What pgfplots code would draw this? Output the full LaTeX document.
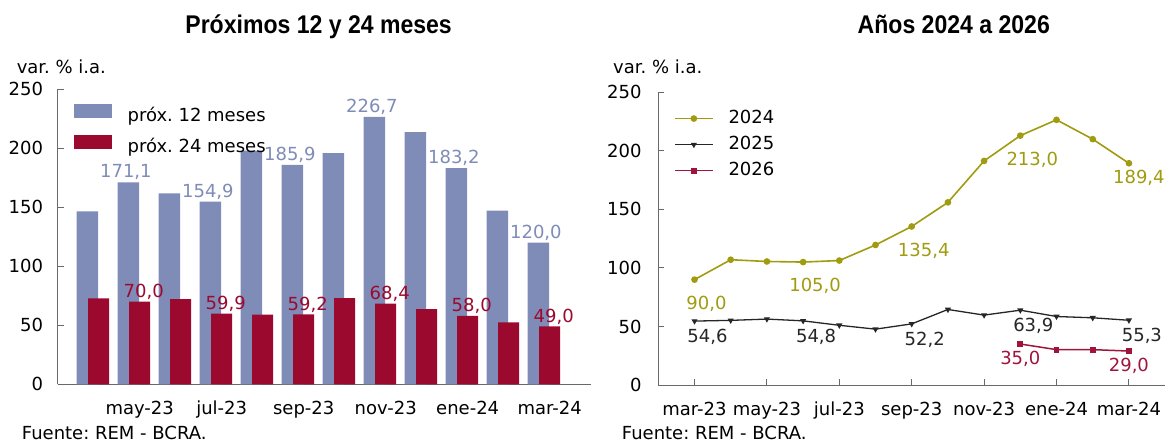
\documentclass[border=0pt]{standalone}
\usepackage{pgfplots}
\pgfplotsset{compat=1.18}
\usepackage{fontspec}
\setmainfont{DejaVu Sans}
\newfontfamily\titlefont[FakeStretch=0.9]{Liberation Sans}
\definecolor{blueB}{RGB}{127,140,184}
\definecolor{redB}{RGB}{155,10,46}
\definecolor{oliveL}{RGB}{160,155,15}
\definecolor{red26}{RGB}{160,20,60}
\definecolor{axisgray}{RGB}{105,105,105}
\newcommand\fs{\fontsize{18}{21.6}\selectfont}
\frenchspacing
\pgfplotsset{
  common/.style={
    scale only axis, ymin=0, ymax=250, clip=false,
    axis x line*=bottom, axis y line*=left,
    axis line style={axisgray, line width=1pt, -},
    tick align=inside, major tick length=6pt,
    tick style={axisgray, line width=1pt},
    ytick={0,50,...,250},
    tick label style={font=\fs, text=black},
    xticklabel style={inner sep=0pt, anchor=north, yshift=-17pt, text height=13pt, text depth=4pt},
    /pgf/number format/assume math mode=true,
  },
  lab/.style={draw=none, mark=none, forget plot, point meta=y,
    nodes near coords={\pgfmathprintnumber[fixed,fixed zerofill,precision=1,use comma,assume math mode=true]{\pgfplotspointmeta}},
    every node near coord/.append style={font=\fs, inner sep=0pt, anchor=center, #1}},
}
\begin{document}
\begin{tikzpicture}[x=1pt,y=1pt]
\useasboundingbox (0,0) rectangle (1169,442);
\node[anchor=base, inner sep=0pt] at (318.6,408.7) {\titlefont\bfseries\fontsize{25.6}{30}\selectfont Próximos 12 y 24 meses};
\node[anchor=base, inner sep=0pt] at (953.8,408.7) {\titlefont\bfseries\fontsize{25.6}{30}\selectfont Años 2024 a 2026};
\node[anchor=base west, inner sep=0pt] at (16.6,368) {\fs var. \% i.a.};
\node[anchor=base west, inner sep=0pt] at (613,368) {\fs var. \% i.a.};
\node[anchor=base west, inner sep=0pt] at (21.7,2.5) {\fs Fuente: REM - BCRA.};
\node[anchor=base west, inner sep=0pt] at (621.7,2.5) {\fs Fuente: REM - BCRA.};

\begin{axis}[common,
  at={(57.7pt,57.7pt)}, anchor=south west, width=533pt, height=295pt,
  xmin=0, xmax=13,
  xtick={2,4,...,12}, xticklabels={may-23,jul-23,sep-23,nov-23,ene-24,mar-24},
  yticklabel style={inner sep=0pt, anchor=east, xshift=-14.4pt},
  legend style={draw=none, fill=none, at={(0.0306,0.952)}, anchor=north west, inner sep=0pt,
    row sep=9.8pt, column sep=16pt, font=\fs, nodes={inner sep=0pt, text height=13pt, text depth=4pt}},
  legend cell align=left,
]
\addlegendimage{legend image code/.code={\fill[blueB] (0pt,-0.5pt) rectangle (37pt,12.8pt);}}
\addlegendentry{próx. 12 meses}
\addlegendimage{legend image code/.code={\fill[redB] (0pt,-0.5pt) rectangle (37pt,12.8pt);}}
\addlegendentry{próx. 24 meses}
\addplot[ybar, bar width=21.6pt, bar shift=-11.3pt, fill=blueB, draw=none, forget plot] coordinates {
 (1,146.6)(2,171.1)(3,161.9)(4,154.9)(5,198)(6,185.9)(7,196)(8,226.7)(9,213.8)(10,183.2)(11,147.2)(12,120)};
\addplot[ybar, bar width=21pt, bar shift=0pt, fill=redB, draw=none, forget plot] coordinates {
 (1,72.8)(2,70)(3,72.2)(4,59.9)(5,59)(6,59.2)(7,73)(8,68.4)(9,63.8)(10,58)(11,52.5)(12,49)};
\addplot[lab={text=blueB, xshift=-13.8pt, yshift=10pt}] coordinates {
 (2,171.1)(4,154.9)(6,185.9)(8,226.7)(10,183.2)(12,120)};
\addplot[lab={text=redB, xshift=4pt, yshift=10pt}] coordinates {
 (2,70)(4,59.9)(6,59.2)(8,68.4)(10,58)(12,49)};
\end{axis}

\begin{axis}[common,
  at={(658.3pt,57pt)}, anchor=south west, width=506.8pt, height=292.7pt,
  xmin=-1, xmax=13,
  xtick={0,2,...,12}, xticklabels={mar-23,may-23,jul-23,sep-23,nov-23,ene-24,mar-24},
  yticklabel style={inner sep=0pt, anchor=east, xshift=-16.6pt},
  legend style={draw=none, fill=none, at={(0.031,0.94)}, anchor=north west, inner sep=0pt,
    row sep=9pt, column sep=15pt, font=\fs, nodes={inner sep=0pt, text height=13pt, text depth=4pt}},
  legend cell align=left,
  legend image code/.code={\draw[mark repeat=2,mark phase=2,#1] plot coordinates {(0pt,0pt)(18.85pt,0pt)(37.7pt,0pt)};},
]
\addplot[oliveL, line width=1.6pt, mark=*, mark size=2.5pt] coordinates {
 (0,90)(1,107)(2,105.5)(3,105)(4,106.3)(5,119.6)(6,135.4)(7,156)(8,191.4)(9,213)(10,226.5)(11,210)(12,189.4)};
\addlegendentry{2024}
\addplot[black!85, line width=1.3pt, mark=triangle*, mark options={rotate=180}, mark size=2.3pt] coordinates {
 (0,54.6)(1,55.2)(2,56.3)(3,54.8)(4,51)(5,47.7)(6,52.2)(7,64.5)(8,59.7)(9,63.9)(10,58.5)(11,57.4)(12,55.3)};
\addlegendentry{2025}
\addplot[red26, line width=1.5pt, mark=square*, mark size=2.2pt] coordinates {
 (9,35)(10,30.2)(11,30.2)(12,29)};
\addlegendentry{2026}
\addplot[lab={text=oliveL, xshift=12pt, yshift=-24pt}] coordinates {(0,90)(3,105)(6,135.4)(9,213)};
\addplot[lab={text=oliveL, xshift=10pt, yshift=-15pt}] coordinates {(12,189.4)};
\addplot[lab={text=black!85, xshift=13pt, yshift=-16pt}] coordinates {(0,54.6)(3,54.8)(6,52.2)(9,63.9)(12,55.3)};
\addplot[lab={text=red26, xshift=0pt, yshift=-15pt}] coordinates {(9,35)(12,29)};
\end{axis}
\end{tikzpicture}
\end{document}
